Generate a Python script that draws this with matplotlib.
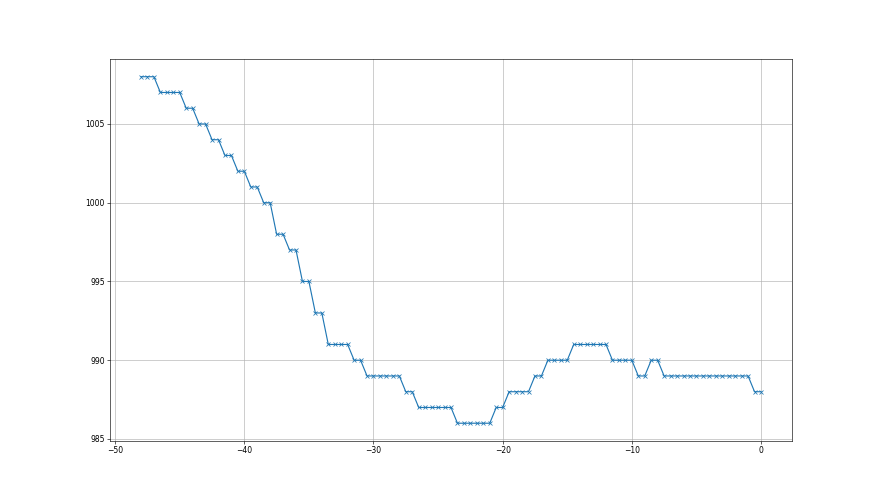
import numpy as np
import matplotlib
matplotlib.use('Agg')
import matplotlib.pyplot as plt

# time offsets, half-step samples from -48 to 0
hours = np.arange(-48, 0.5, 0.5)

# pressure readings
pressure = [
    1008, 1008, 1008,
    1007, 1007, 1007, 1007,
    1006, 1006,
    1005, 1005,
    1004, 1004,
    1003, 1003,
    1002, 1002,
    1001, 1001,
    1000, 1000,
    998, 998,
    997, 997,
    995, 995,
    993, 993,
    991, 991, 991, 991,
    990, 990,
    989, 989, 989, 989, 989, 989,
    988, 988,
    987, 987, 987, 987, 987, 987,
    986, 986, 986, 986, 986, 986,
    987, 987,
    988, 988, 988, 988,
    989, 989,
    990, 990, 990, 990,
    991, 991, 991, 991, 991, 991,
    990, 990, 990, 990,
    989, 989,
    990, 990,
    989, 989, 989, 989, 989, 989, 989, 989, 989, 989, 989, 989, 989, 989,
    988, 988,
]

fig = plt.figure(figsize=(16, 9), dpi=55)
plt.plot(hours, pressure, marker='x')
plt.xticks([-50, -40, -30, -20, -10, 0])
plt.yticks([985, 990, 995, 1000, 1005])
plt.grid(True)
plt.savefig('out.png', dpi=55)
